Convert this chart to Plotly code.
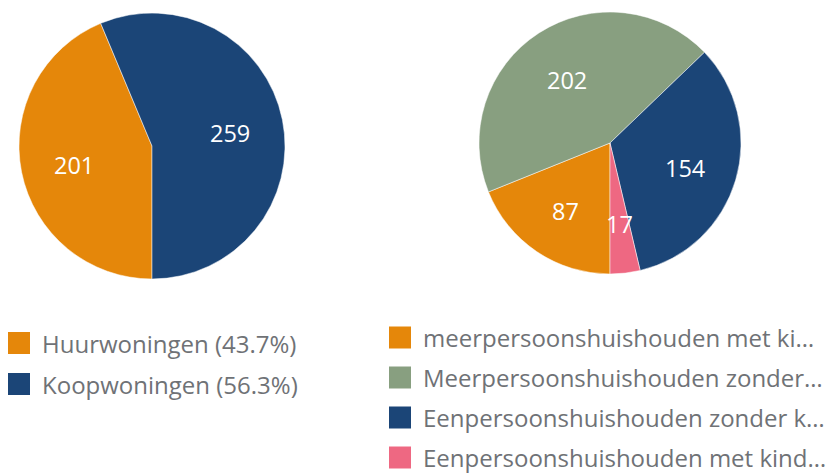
import numpy as np
import plotly.graph_objects as go

# ---- data ----
left_labels = ["Huurwoningen", "Koopwoningen"]
left_values = [201, 259]
left_colors = ["#E5870A", "#1B4577"]

right_labels = ["meerpersoonshuishouden met kinderen",
                "Meerpersoonshuishouden zonder kinderen",
                "Eenpersoonshuishouden zonder kinderen",
                "Eenpersoonshuishouden met kinderen"]
right_legend_text = ["meerpersoonshuishouden met ki…",
                     "Meerpersoonshuishouden zonder…",
                     "Eenpersoonshuishouden zonder k…",
                     "Eenpersoonshuishouden met kind…"]
right_values = [87, 202, 154, 17]
right_colors = ["#E5870A", "#889F80", "#1B4577", "#EE6882"]

# the page body adds an 8px margin, so the figure is 8px smaller and
# reference pixel positions are shifted by 8
OFF = 8
W, H = 838 - OFF, 474 - OFF
FONT = "Open Sans"
TXT = "#6f7276"

def px2x(x):
    return (x - OFF) / W

def px2y(y):
    return 1 - (y - OFF) / H

left_dom = dict(x=[px2x(19), px2x(285)], y=[px2y(279), px2y(13)])
right_dom = dict(x=[px2x(479), px2x(741)], y=[px2y(274), px2y(12)])

fig = go.Figure()
for labels, values, colors, dom in [(left_labels, left_values, left_colors, left_dom),
                                    (right_labels, right_values, right_colors, right_dom)]:
    fig.add_trace(go.Pie(labels=labels, values=values, sort=False,
                         direction="clockwise", rotation=180,
                         marker=dict(colors=colors, line=dict(color="white", width=0.5)),
                         textinfo="none", hoverinfo="label+value+percent",
                         domain=dom, showlegend=False))

annotations = []
shapes = []

def add_labels(values, dom):
    v = np.array(values, dtype=float)
    frac = v / v.sum()
    cum = np.concatenate([[0], np.cumsum(frac)])
    cx = (dom["x"][0] + dom["x"][1]) / 2 * W + OFF
    cy = (1 - (dom["y"][0] + dom["y"][1]) / 2) * H + OFF
    r = (dom["x"][1] - dom["x"][0]) * W / 2
    for i, val in enumerate(values):
        mid = np.deg2rad(180 + 360 * (cum[i] + cum[i + 1]) / 2)
        x = cx + 0.6 * r * np.sin(mid)
        y = cy - 0.6 * r * np.cos(mid) + 3
        annotations.append(dict(x=px2x(x), y=px2y(y), xref="paper", yref="paper",
                                text=str(val), showarrow=False,
                                font=dict(family=FONT, size=23.5, color="white"),
                                xanchor="center", yanchor="middle"))

add_labels(left_values, left_dom)
add_labels(right_values, right_dom)

def add_legend(texts, colors, x0, y0, dy, tx):
    for i, (t, c) in enumerate(zip(texts, colors)):
        yc = y0 + i * dy
        shapes.append(dict(type="rect", xref="paper", yref="paper",
                           x0=px2x(x0), x1=px2x(x0 + 22), y0=px2y(yc + 11), y1=px2y(yc - 11),
                           fillcolor=c, line=dict(color=c, width=0)))
        annotations.append(dict(x=px2x(tx), y=px2y(yc), xref="paper", yref="paper",
                                text=t, showarrow=False, xanchor="left", yanchor="middle",
                                font=dict(family=FONT, size=24, color=TXT)))

lt = np.array(left_values) / sum(left_values) * 100
add_legend([f"{l} ({p:.1f}%)" for l, p in zip(left_labels, lt)], left_colors, 8, 343, 41, 40)
add_legend(right_legend_text, right_colors, 389, 337.5, 40, 421)

fig.update_layout(width=W, height=H, margin=dict(l=0, r=0, t=0, b=0),
                  paper_bgcolor="white", plot_bgcolor="white",
                  annotations=annotations, shapes=shapes,
                  font=dict(family=FONT))
fig.write_html("out.html")
